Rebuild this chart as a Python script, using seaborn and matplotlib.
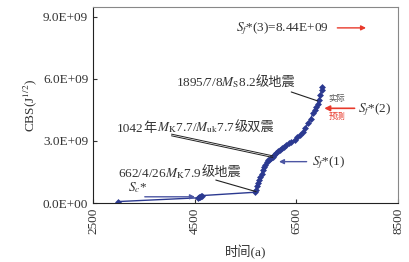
import matplotlib
matplotlib.use("Agg")
import matplotlib.pyplot as plt
import matplotlib.ticker as mticker
import seaborn as sns
import pandas as pd

# time axis (a) and CBS values (units of 1e9 J^1/2)
years = [3000, 4560, 4590, 4610, 4630, 4650, 5688, 5710, 5735, 5755, 5773,
         5795, 5815, 5840, 5865, 5890, 5915, 5940, 5975, 6005, 6040, 6070,
         6100, 6140, 6170, 6210, 6250, 6300, 6350, 6400, 6466, 6520, 6580,
         6632, 6680, 6730, 6780, 6830, 6870, 6896, 6920, 6943, 6970, 7000, 7010]
cbs = [0.07, 0.25, 0.30, 0.27, 0.33, 0.36, 0.52, 0.65, 0.82, 0.96, 1.11,
       1.25, 1.40, 1.60, 1.72, 1.85, 1.97, 2.08, 2.15, 2.20, 2.24, 2.32,
       2.42, 2.50, 2.56, 2.65, 2.72, 2.80, 2.88, 2.95, 3.05, 3.18, 3.30,
       3.45, 3.62, 3.86, 4.08, 4.34, 4.50, 4.66, 4.80, 4.98, 5.20, 5.47, 5.63]

df = pd.DataFrame({"t": years, "cbs": [v * 1e9 for v in cbs]})

sns.set_style("ticks")
plt.rcParams["font.family"] = ["Liberation Serif", "Noto Sans CJK SC"]
plt.rcParams["mathtext.fontset"] = "stix"

navy = "#2b3990"
blue = "#4c56a3"
red = "#e8392b"
tc = "#333333"
fs = 9.5
E = 1e9

fig = plt.figure(figsize=(4.09, 2.62), dpi=100)
ax = fig.add_axes([93 / 409, 1 - 203 / 262, 305 / 409, 196 / 262])

sns.lineplot(data=df, x="t", y="cbs", sort=False, color=navy, lw=1.0,
             marker="D", markersize=3.5, markeredgewidth=0, ax=ax)

ax.set_xlim(2500, 8500)
ax.set_ylim(0, 9.48e9)
ax.set_xticks([2500, 4500, 6500, 8500])
ax.set_yticks([0, 3e9, 6e9, 9e9])
ax.yaxis.set_major_formatter(mticker.FuncFormatter(lambda v, p: f"{v:.1E}"))
ax.tick_params(direction="in", length=3, labelsize=9.5, colors=tc)
plt.setp(ax.get_xticklabels(), rotation=90)
ax.set_xlabel("时间(a)", fontsize=9.5, color=tc, labelpad=8)
ax.set_ylabel("CBS(J$^{1/2}$)", fontsize=9.5, color=tc, labelpad=3)
for s in ["left", "bottom"]:
    ax.spines[s].set_color("#222222")
for s in ["top", "right"]:
    ax.spines[s].set_color("#888888")

renderer = fig.canvas.get_renderer()


def label(x, y, parts):
    # mathtext has no CJK glyphs, so chain the pieces on one baseline
    for s in parts:
        t = ax.text(x, y, s, fontsize=fs, color=tc, va="baseline")
        bb = t.get_window_extent(renderer)
        x = ax.transData.inverted().transform((bb.x1, bb.y0))[0]


# S_f*(3)
label(5312, 8.30 * E, ["$S_f$*(3)=8.44E+09"])
ax.annotate("", xy=(7926, 8.47 * E), xytext=(7252, 8.47 * E),
            arrowprops=dict(arrowstyle="-|>", color=red, lw=1, mutation_scale=7))

# 1895 event
label(4124, 5.64 * E, ["1895/7/8$M_\\mathrm{S}$8.2", "级地震"])
ax.plot([6400, 6916], [5.37 * E, 4.94 * E], color="#222222", lw=0.8)
ax.text(7302, 5.02 * E, "实际", fontsize=6, color="#555555", ha="center", va="center")
ax.text(7302, 4.18 * E, "预测", fontsize=6, color=red, ha="center", va="center")
ax.annotate("", xy=(6995, 4.58 * E), xytext=(7700, 4.58 * E),
            arrowprops=dict(arrowstyle="-|>", color=red, lw=1.2, mutation_scale=8))
label(7720, 4.40 * E, ["$S_f$*(2)"])

# 1042 event
label(2975, 3.45 * E, ["1042", "年", "$M_\\mathrm{K}$7.7/$M_\\mathrm{uk}$7.7", "级双震"])
ax.plot([4044, 6038], [3.33 * E, 2.28 * E], color="#222222", lw=0.7)
ax.plot([4044, 6038], [3.25 * E, 2.20 * E], color="#222222", lw=0.7)
ax.annotate("", xy=(6104, 2.0 * E), xytext=(6757, 2.0 * E),
            arrowprops=dict(arrowstyle="-|>", color=blue, lw=1, mutation_scale=7))
label(6800, 1.84 * E, ["$S_f$*(1)"])

# 662 event
label(2995, 1.27 * E, ["662/4/26$M_\\mathrm{K}$7.9", "级地震"])
ax.plot([4916, 5708], [1.11 * E, 0.55 * E], color="#222222", lw=0.8)

# S_c*
label(3193, 0.55 * E, ["$S_c$*"])
ax.annotate("", xy=(4560, 0.30 * E), xytext=(3464, 0.30 * E),
            arrowprops=dict(arrowstyle="-|>", color=blue, lw=1, mutation_scale=7))

fig.savefig("out.png", dpi=100)
